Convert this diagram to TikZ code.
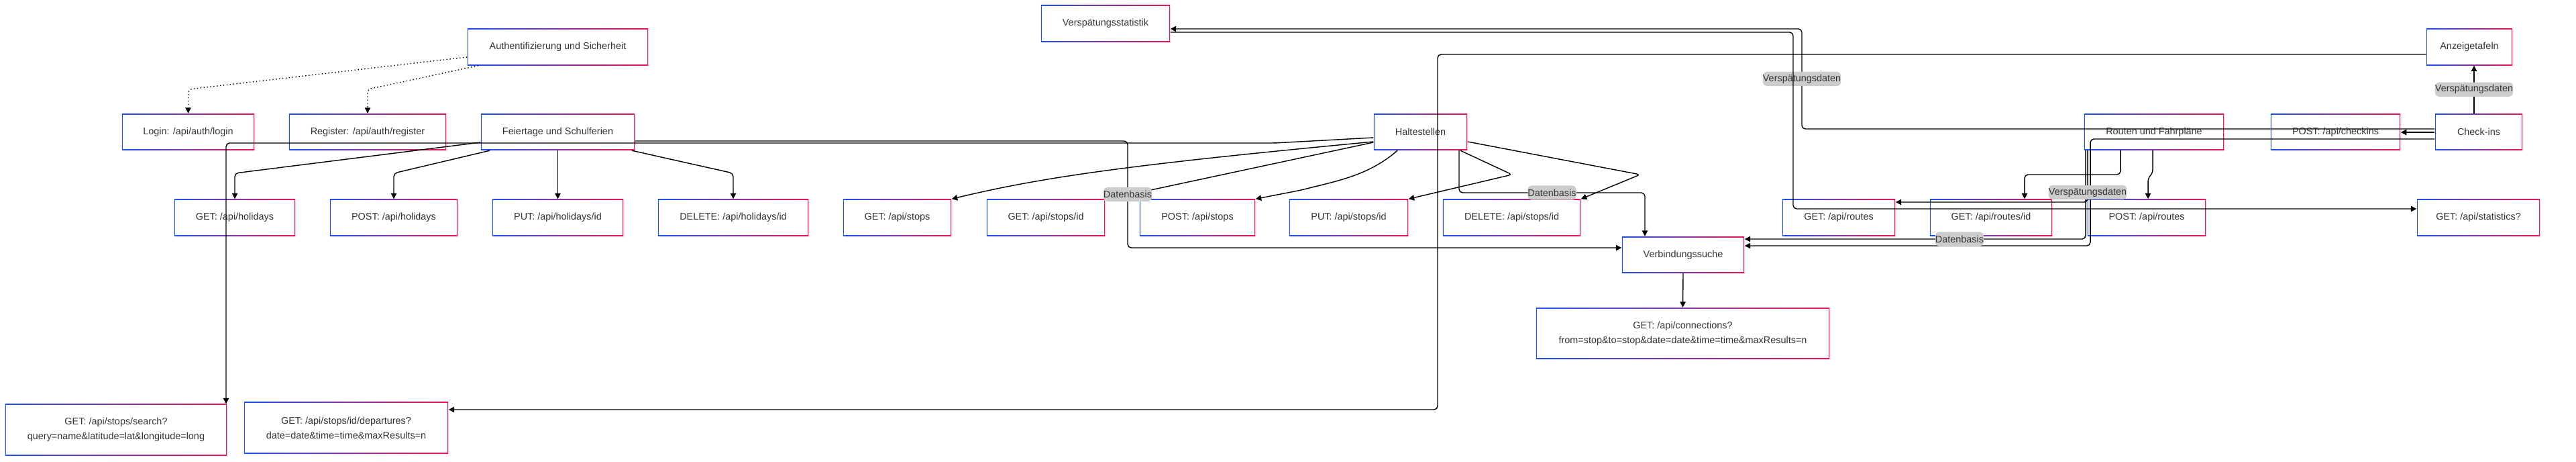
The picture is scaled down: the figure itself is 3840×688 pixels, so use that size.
\documentclass[tikz,border=0pt]{standalone}
\usepackage{fontspec}
\setmainfont{Liberation Sans}
\usepackage{tikz}
\usetikzlibrary{arrows.meta,shadows}

\definecolor{bblue}{RGB}{25,80,245}
\definecolor{bred}{RGB}{240,20,80}
\definecolor{txt}{RGB}{51,51,51}
\definecolor{lblgray}{RGB}{204,204,204}

\begin{document}
\begin{tikzpicture}[x=0.01cm, y=-0.01cm,
  >={Triangle[length=2.4pt,width=2.4pt]},
  box/.style={minimum height=0.54cm, inner sep=1pt, align=center, text=txt,
    font=\fontsize{4.1}{6.3}\selectfont,
    drop shadow={shadow xshift=0.5pt, shadow yshift=-0.5pt, opacity=0.12},
    path picture={
      \shade[left color=bblue, right color=bred] (path picture bounding box.south west) rectangle (path picture bounding box.north east);
      \fill[white] ([shift={(0.42pt,0.42pt)}]path picture bounding box.south west) rectangle ([shift={(-0.42pt,-0.42pt)}]path picture bounding box.north east);
    }},
  tall/.style={box, minimum height=0.76cm},
  link/.style={->, line width=0.4pt, rounded corners=1.5pt},
  dotlink/.style={link, densely dotted},
  lbl/.style={fill=lblgray, text=txt, font=\fontsize{4.1}{5}\selectfont, inner xsep=0pt, inner ysep=0pt, minimum height=0.21cm}
]
\fill[white] (0,0) rectangle (3840,688);
\useasboundingbox (0,0) rectangle (3840,688);

% bereiche
\node[box, minimum width=2.69cm] (auth) at (831.5,70) {Authentifizierung und Sicherheit};
\node[box, minimum width=1.92cm] (statistik) at (1648,35) {Verspätungsstatistik};
\node[box, minimum width=1.28cm] (anzeige) at (3681,70) {Anzeigetafeln};

\node[box, minimum width=1.97cm] (login) at (280.5,196.5) {Login: /api/auth/login};
\node[box, minimum width=2.34cm] (register) at (548,196.5) {Register: /api/auth/register};
\node[box, minimum width=2.29cm] (feiertage) at (831.5,196.5) {Feiertage und Schulferien};
\node[box, minimum width=1.39cm] (haltestellen) at (2117.5,196.5) {Haltestellen};
\node[box, minimum width=2.08cm] (routen) at (3211,196.5) {Routen und Fahrpläne};
\node[box, minimum width=1.93cm] (postCheckins) at (3481.5,196.5) {POST: /api/checkins};
\node[box, minimum width=1.30cm] (checkins) at (3695,196.5) {Check-ins};

% endpunkte
\foreach \n/\x/\w/\t in {
  getHol/350/1.80/{GET: /api/holidays},
  postHol/587/1.90/{POST: /api/holidays},
  putHol/831.5/1.95/{PUT: /api/holidays/id},
  delHol/1093/2.24/{DELETE: /api/holidays/id},
  getStops/1337.5/1.61/{GET: /api/stops},
  getStopId/1559/1.76/{GET: /api/stops/id},
  postStops/1785/1.72/{POST: /api/stops},
  putStops/2010.5/1.77/{PUT: /api/stops/id},
  delStops/2253.5/2.05/{DELETE: /api/stops/id},
  getRoutes/2741/1.68/{GET: /api/routes},
  getRouteId/2968/1.82/{GET: /api/routes/id},
  postRoutes/3200/1.76/{POST: /api/routes},
  getStats/3694.5/1.83/{GET: /api/statistics?}}
  \node[box, minimum width=\w cm] (\n) at (\x,324) {\t};

\node[box, minimum width=1.82cm] (verbindung) at (2509,379.5) {Verbindungssuche};
\node[tall, minimum width=4.37cm] (connections) at (2508.5,496.5) {GET: /api/connections?\\from=stop\&to=stop\&date=date\&time=time\&maxResults=n};
\node[tall, minimum width=3.30cm] (search) at (173,640) {GET: /api/stops/search?\\query=name\&latitude=lat\&longitude=long};
\node[tall, minimum width=3.04cm] (departures) at (516,637) {GET: /api/stops/id/departures?\\date=date\&time=time\&maxResults=n};

% verbindungen
\draw[dotlink] (auth.west |- 0,85) -- (280.5,133) -- (login.north);
\draw[dotlink] (713,0 |- auth.south) -- (548,133) -- (register.north);

\draw[link] (feiertage.west |- 0,212) -- (350,258) -- (getHol.north);
\draw[link] (730,0 |- feiertage.south) -- (587,258) -- (postHol.north);
\draw[link] (feiertage.south) -- (putHol.north);
\draw[link] (942,0 |- feiertage.south) -- (1093,258) -- (delHol.north);

\draw[link] (haltestellen.west |- 0,205) -- (1900,213) -- (337,213) -- (search.north east -| 337,0);
\draw[link] (haltestellen.west |- 0,211) .. controls (1700,244) and (1560,262) .. (getStops.north east);
\draw[link] (haltestellen.west |- 0,212) -- (1720,282) -- (getStopId.north east);
\draw[link] (2083,0 |- haltestellen.south) .. controls (2040,262) and (1990,270) .. (1940,283) -- (postStops.north east);
\draw[link] (2177,0 |- haltestellen.south) -- (2254,260) -- (putStops.north east);
\draw[link] (haltestellen.east |- 0,211) -- (2445,260) -- (delStops.north east);
\draw[link] (2175,0 |- haltestellen.south) -- (2175,287) -- node[lbl]{Datenbasis} (2452,287) -- (2452,0 |- verbindung.north);
\draw[link] (feiertage.east |- 0,210) -- (1681,210) -- node[lbl]{Datenbasis} (1681,369) -- (verbindung.west |- 0,369);

\draw[link] (anzeige.west |- 0,81) -- (2143,81) -- (2143,610) -- (departures.east |- 0,610);

\draw[link] (3688,0 |- checkins.north) -- node[lbl]{Verspätungsdaten} (3688,0 |- anzeige.south);
\draw[link] (checkins.west |- 0,192) -- (2686,192) -- node[lbl]{Verspätungsdaten} (2686,43) -- (statistik.east |- 0,43);
\draw[link] (statistik.east |- 0,48) -- (2673,48) -- (2673,311) -- (getStats.west |- 0,311);
\draw[link] (checkins.west |- 0,197) -- (postCheckins.east |- 0,197);
\draw[link] (checkins.west |- 0,207) -- (3116,207) -- (3116,366) -- (verbindung.east |- 0,366);
\draw[link] (3109,0 |- routen.south) -- (3109,356) -- node[lbl, pos=0.37]{Datenbasis} (verbindung.east |- 0,356);
\draw[link] (3161,0 |- routen.south) -- (3161,260) -- (3018,260) -- (3018,0 |- getRouteId.north);
\draw[link] (3209,0 |- routen.south) -- (3209,258) -- (3202,265) -- (3202,0 |- postRoutes.north);
\draw[link] (3112,0 |- routen.south) -- node[lbl, pos=0.81]{Verspätungsdaten} (3112,301) -- (getRoutes.east |- 0,301);

\draw[link] (verbindung.south) -- (connections.north);
\end{tikzpicture}
\end{document}
